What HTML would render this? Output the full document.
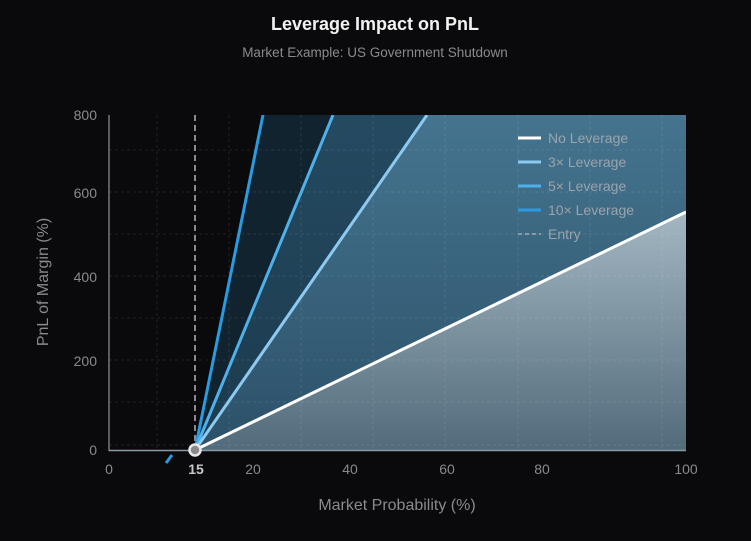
<!DOCTYPE html>
<html><head><style>
body{margin:0;background:#0a0a0c;width:751px;height:536px;overflow:hidden;font-family:"Liberation Sans",sans-serif}
</style></head><body>
<svg width="751" height="536" xmlns="http://www.w3.org/2000/svg" font-family="Liberation Sans, sans-serif">
<defs>
<linearGradient id="g3" x1="0" y1="0" x2="0" y2="1"><stop offset="0" stop-color="#45748f"/><stop offset="1" stop-color="#2c5169"/></linearGradient>
<linearGradient id="g0" x1="0" y1="0" x2="0" y2="1"><stop offset="0" stop-color="#a3b7c2"/><stop offset="1" stop-color="#526b7b"/></linearGradient>
<linearGradient id="g5" x1="0" y1="0" x2="0" y2="1"><stop offset="0" stop-color="#244a61"/><stop offset="1" stop-color="#1c3a4d"/></linearGradient>
<clipPath id="c"><rect x="109" y="115" width="577" height="335"/></clipPath>
</defs>
<rect width="751" height="536" fill="#0a0a0c"/>
<text x="375" y="30" text-anchor="middle" fill="#f2f2f2" font-size="18" font-weight="bold">Leverage Impact on PnL</text>
<text x="375" y="57" text-anchor="middle" fill="#8a8a8e" font-size="13.5">Market Example: US Government Shutdown</text>
<g clip-path="url(#c)">
<polygon points="195,450 263,115 333,115" fill="#11232f"/>
<polygon points="195,450 333,115 427,115" fill="url(#g5)"/>
<polygon points="195,450 427,115 686,115 686,212" fill="url(#g3)"/>
<polygon points="195,450 686,212 686,450" fill="url(#g0)"/>
<g stroke="#ffffff" stroke-opacity="0.1" stroke-dasharray="3,3" stroke-width="1">
<line x1="109" y1="150" x2="686" y2="150"/><line x1="109" y1="192" x2="686" y2="192"/><line x1="109" y1="234" x2="686" y2="234"/><line x1="109" y1="276" x2="686" y2="276"/><line x1="109" y1="318" x2="686" y2="318"/><line x1="109" y1="360" x2="686" y2="360"/><line x1="109" y1="402" x2="686" y2="402"/><line x1="109" y1="445" x2="686" y2="445"/>
<line x1="157" y1="115" x2="157" y2="450"/><line x1="229" y1="115" x2="229" y2="450"/><line x1="301" y1="115" x2="301" y2="450"/><line x1="373" y1="115" x2="373" y2="450"/><line x1="445" y1="115" x2="445" y2="450"/><line x1="518" y1="115" x2="518" y2="450"/><line x1="590" y1="115" x2="590" y2="450"/><line x1="662" y1="115" x2="662" y2="450"/>
</g>
<line x1="195" y1="450" x2="263" y2="115" stroke="#2b9be0" stroke-width="3"/>
<line x1="195" y1="450" x2="333" y2="115" stroke="#4fb0ea" stroke-width="3"/>
<line x1="195" y1="450" x2="427" y2="115" stroke="#8ccaf2" stroke-width="3"/>
<line x1="195" y1="450" x2="686" y2="212" stroke="#ffffff" stroke-width="3"/>
</g>
<line x1="172" y1="455" x2="166" y2="463" stroke="#2b9be0" stroke-width="3"/>
<line x1="195" y1="115" x2="195" y2="450" stroke="#8a8a8e" stroke-width="2" stroke-dasharray="6,4"/>
<line x1="109" y1="115" x2="109" y2="451" stroke="#777" stroke-width="1.5"/>
<line x1="109" y1="450.5" x2="686" y2="450.5" stroke="#8a9aa4" stroke-width="1.5"/>
<circle cx="195" cy="450" r="5.5" fill="#8a8a8a" stroke="#e8e8e8" stroke-width="2.5"/>
<g fill="#8a8a8e" font-size="14" text-anchor="end">
<text x="97" y="120">800</text><text x="97" y="198">600</text><text x="97" y="282">400</text><text x="97" y="366">200</text><text x="97" y="455">0</text>
</g>
<g fill="#8a8a8e" font-size="14" text-anchor="middle">
<text x="109" y="474">0</text><text x="196" y="474" fill="#c8c8c8" font-weight="bold">15</text><text x="253" y="474">20</text><text x="350" y="474">40</text><text x="447" y="474">60</text><text x="542" y="474">80</text><text x="686" y="474">100</text>
</g>
<text x="397" y="510" text-anchor="middle" fill="#8a8a8e" font-size="16">Market Probability (%)</text>
<text transform="translate(48,282) rotate(-90)" text-anchor="middle" fill="#8a8a8e" font-size="16">PnL of Margin (%)</text>
<g font-size="14" fill="#9aa4aa">
<line x1="518" y1="138" x2="541" y2="138" stroke="#fff" stroke-width="3"/><text x="548" y="143">No Leverage</text>
<line x1="518" y1="162" x2="541" y2="162" stroke="#8ccaf2" stroke-width="3"/><text x="548" y="167">3× Leverage</text>
<line x1="518" y1="186" x2="541" y2="186" stroke="#4fb0ea" stroke-width="3"/><text x="548" y="191">5× Leverage</text>
<line x1="518" y1="210" x2="541" y2="210" stroke="#2b9be0" stroke-width="3"/><text x="548" y="215">10× Leverage</text>
<line x1="518" y1="234" x2="541" y2="234" stroke="#8a9aa4" stroke-width="2" stroke-dasharray="4,3"/><text x="548" y="239">Entry</text>
</g>
</svg>
</body></html>
